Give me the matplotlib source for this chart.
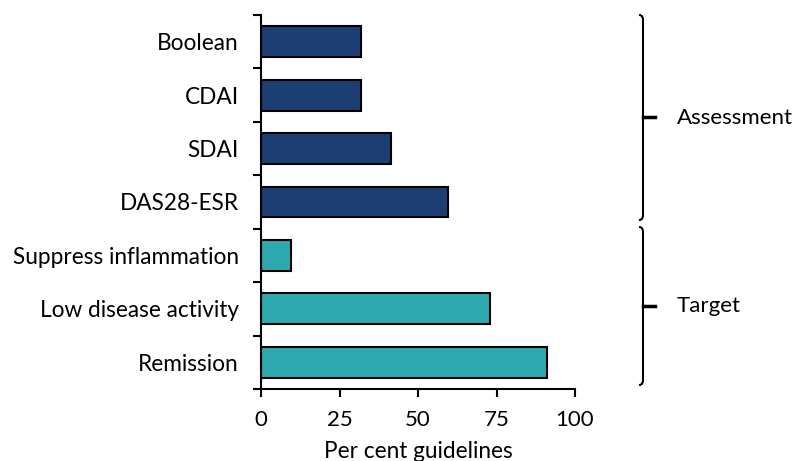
import matplotlib.pyplot as plt
from matplotlib.path import Path
from matplotlib.patches import PathPatch

plt.rcParams['font.family'] = ['Lato', 'DejaVu Sans']

# Data
categories = ['Boolean', 'CDAI', 'SDAI', 'DAS28-ESR',
              'Suppress inflammation', 'Low disease activity', 'Remission']
values = [32, 32, 41.5, 59.5, 9.5, 73, 91]
groups = ['Assessment', 'Assessment', 'Assessment', 'Assessment',
          'Target', 'Target', 'Target']
group_names = ['Assessment', 'Target']
group_colors = {'Assessment': '#1c3e72', 'Target': '#2ea9b0'}
xticks = [0, 25, 50, 75, 100]

fig = plt.figure(figsize=(7.95, 4.61), dpi=100)
ax = fig.add_axes([261 / 795, 1 - 389 / 461, 314 / 795, 374 / 461])

y = list(range(len(categories)))
ax.barh(y, values, height=0.58, color=[group_colors[g] for g in groups],
        edgecolor='black', linewidth=1.5)

ax.set_xlim(0, 100)
ax.set_ylim(len(categories) - 0.5, -0.5)
ax.set_xticks(xticks)
ax.set_yticks(y)
ax.set_yticklabels(categories)
ax.set_yticks([i - 0.5 for i in range(len(categories) + 1)], minor=True)
ax.tick_params(axis='y', which='major', length=0, pad=16, labelsize=16.3)
ax.tick_params(axis='y', which='minor', length=6, width=1.5, direction='out')
ax.tick_params(axis='x', length=6, width=1.5, labelsize=16, pad=9)
ax.set_xlabel('Per cent guidelines', fontsize=16.3, labelpad=8)

for s in ['top', 'right']:
    ax.spines[s].set_visible(False)
for s in ['left', 'bottom']:
    ax.spines[s].set_linewidth(1.5)


def draw_brace(top, bottom, label):
    # top/bottom in pixels from top of figure, drawn in figure coords
    W, H = 795, 461
    x = 643
    c = 4
    mid = (top + bottom) / 2
    pts = [(x - c, top), (x, top), (x, top + c), (x, top + c + 1),
           (x, bottom - c - 1), (x, bottom - c), (x, bottom), (x - c, bottom)]
    codes = [Path.MOVETO, Path.CURVE4, Path.CURVE4, Path.CURVE4,
             Path.LINETO, Path.CURVE4, Path.CURVE4, Path.CURVE4]
    verts = [(px / W, 1 - py / H) for px, py in pts]
    fig.patches.append(PathPatch(Path(verts, codes), fill=False, lw=1.5,
                                 edgecolor='black', transform=fig.transFigure))
    fig.lines.append(plt.Line2D([x / W, 655 / W], [1 - mid / H, 1 - mid / H],
                                lw=2.5, color='black', transform=fig.transFigure))
    fig.text(677 / W, 1 - mid / H, label, fontsize=16, va='center', ha='left')


draw_brace(15, 220, group_names[0])
draw_brace(227, 385, group_names[1])

fig.savefig('out.png', dpi=100)
